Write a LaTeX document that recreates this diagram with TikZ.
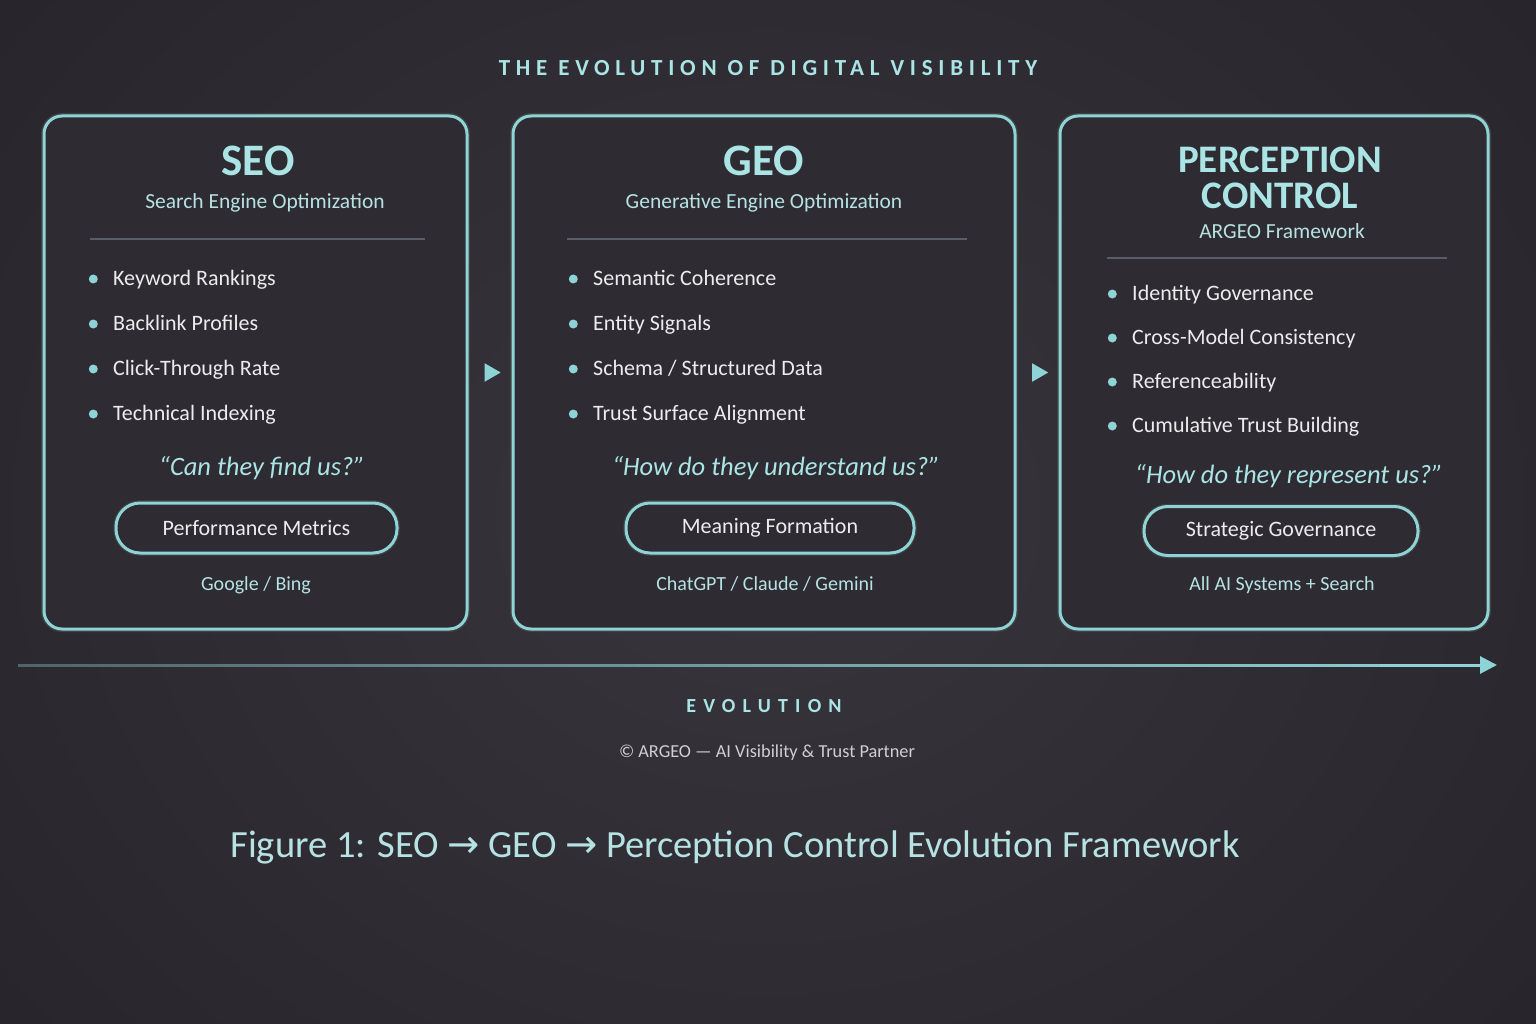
\documentclass[tikz,border=0pt]{standalone}
\usepackage{fontspec}
\setmainfont{Carlito}
\newfontfamily\symfont{DejaVu Sans}
\newfontfamily\wideA[LetterSpace=25]{Carlito}
\newfontfamily\wideB[LetterSpace=36]{Carlito}
\usetikzlibrary{arrows.meta}
\usetikzlibrary{shapes.geometric}
\usetikzlibrary{fadings}

\definecolor{bgcol}{RGB}{56,53,60}
\definecolor{bgedge}{RGB}{40,38,44}
\definecolor{panelcol}{RGB}{46,44,50}
\definecolor{edgecyan}{RGB}{142,212,215}
\definecolor{headcyan}{RGB}{170,228,229}
\definecolor{softcyan}{RGB}{182,226,227}
\definecolor{itemwhite}{RGB}{236,236,238}
\definecolor{rulegray}{RGB}{88,94,102}
\definecolor{copygray}{RGB}{206,208,212}

\tikzfading[name=evofade, left color=transparent!65, middle color=transparent!15, right color=transparent!0]

\tikzset{
  panel/.style={draw=edgecyan, line width=3pt, rounded corners=18pt, fill=panelcol,
    preaction={draw=black!75, line width=6pt, rounded corners=18pt}},
  pill/.style={draw=edgecyan, line width=3pt, rounded corners=24pt, fill=panelcol,
    preaction={draw=black!75, line width=5.5pt, rounded corners=24pt},
    text=itemwhite, font=\fontsize{22}{26}\selectfont, minimum height=50pt},
  heading/.style={text=headcyan, font=\fontsize{45}{48}\selectfont\bfseries, anchor=base},
  bigheading/.style={text=headcyan, font=\fontsize{39}{36}\selectfont\bfseries, anchor=base, align=center},
  subhead/.style={text=softcyan, font=\fontsize{21.5}{25}\selectfont, anchor=base},
  dot/.style={circle, fill=edgecyan, minimum size=9pt, inner sep=0pt},
  item/.style={text=itemwhite, font=\fontsize{22}{26}\selectfont, anchor=west, inner sep=0pt,
    text height=15pt, text depth=3pt, label={[dot, label distance=15pt]left:{}}},
  quote/.style={text=headcyan, font=\fontsize{26.5}{30}\selectfont\itshape},
  source/.style={text=softcyan, font=\fontsize{20}{24}\selectfont},
  divider/.style={draw=rulegray, line width=2.5pt},
  stepmark/.style={isosceles triangle, isosceles triangle apex angle=60, fill=edgecyan,
    minimum height=16pt, inner sep=0pt},
  evoline/.style={draw=edgecyan, line width=3pt, path fading=evofade},
  evotip/.style={draw=edgecyan, line width=3pt, -{Triangle[length=17pt,width=17pt]}},
}

\begin{document}
\begin{tikzpicture}[x=1pt,y=-1pt]
    \useasboundingbox (0,0) rectangle (1536,1024);
    \shade[inner color=bgcol, outer color=bgedge] (-200,-300) rectangle (1736,1324);

    \node[text=headcyan, font=\fontsize{23}{27}\selectfont\bfseries\wideA] (title) at (768,68) {THE EVOLUTION OF DIGITAL VISIBILITY};

    % three panels
    \node[panel, minimum width=423pt, minimum height=513pt] (seo) at (255.5,372.5) {};
    \node[panel, minimum width=502pt, minimum height=513pt] (geo) at (764,372.5) {};
    \node[panel, minimum width=428pt, minimum height=513pt] (pc) at (1274,372.5) {};

    \path (seo) -- node[stepmark] (step1) {} (geo);
    \path (geo) -- node[stepmark] (step2) {} (pc);

    % SEO
    \node[heading] (seoTitle) at (258,176) {SEO};
    \node[subhead] (seoSub) at (265,209) {Search Engine Optimization};
    \draw[divider] (90,239) -- (425,239);
    \node[item] (seo1) at (113,279) {Keyword Rankings};
    \node[item] (seo2) at (113,324) {Backlink Profiles};
    \node[item] (seo3) at (113,369) {Click-Through Rate};
    \node[item] (seo4) at (113,414) {Technical Indexing};
    \node[quote] (seoQ) at (262,468) {“Can they find us?”};
    \node[pill, minimum width=281pt] (seoPill) at (256.5,528) {Performance Metrics};
    \node[source] (seoSrc) at (256,585) {Google / Bing};

    % GEO
    \node[heading] (geoTitle) at (764,176) {GEO};
    \node[subhead] (geoSub) at (764,209) {Generative Engine Optimization};
    \draw[divider] (567,239) -- (967,239);
    \node[item] (geo1) at (593,279) {Semantic Coherence};
    \node[item] (geo2) at (593,324) {Entity Signals};
    \node[item] (geo3) at (593,369) {Schema / Structured Data};
    \node[item] (geo4) at (593,414) {Trust Surface Alignment};
    \node[quote] (geoQ) at (776,468) {“How do they understand us?”};
    \node[pill, minimum width=288pt] (geoPill) at (770,528) {Meaning Formation};
    \node[source] (geoSrc) at (765,584) {ChatGPT / Claude / Gemini};

    % Perception Control
    \node[bigheading] (pcTitle) at (1280,209) {PERCEPTION\\CONTROL};
    \node[subhead] (pcSub) at (1282,239) {ARGEO Framework};
    \draw[divider] (1107,258) -- (1447,258);
    \node[item] (pc1) at (1132,294) {Identity Governance};
    \node[item] (pc2) at (1132,338) {Cross-Model Consistency};
    \node[item] (pc3) at (1132,382) {Referenceability};
    \node[item] (pc4) at (1132,426) {Cumulative Trust Building};
    \node[quote] (pcQ) at (1289,476) {“How do they represent us?”};
    \node[pill, minimum width=274pt, minimum height=49pt] (pcPill) at (1281,531) {Strategic Governance};
    \node[source] (pcSrc) at (1282,585) {All AI Systems + Search};

    % evolution axis
    \coordinate (evoStart) at (20,665);
    \coordinate (evoNear) at (1380,665);
    \coordinate (evoEnd) at (1497,665);
    \draw[evoline] (evoStart) -- (evoEnd);
    \draw[evotip] (evoNear) -- (evoEnd);
    \node[text=headcyan, font=\fontsize{20}{24}\selectfont\bfseries\wideB] (evoLabel) at (764,706) {EVOLUTION};
    \node[text=copygray, font=\fontsize{18.3}{22}\selectfont] (credit) at (767,753) {© ARGEO — AI Visibility \& Trust Partner};

    \node[text=softcyan, font=\fontsize{38.5}{44}\selectfont] (caption) at (735,847) {Figure 1: SEO {\symfont →} GEO {\symfont →} Perception Control Evolution Framework};
\end{tikzpicture}
\end{document}
